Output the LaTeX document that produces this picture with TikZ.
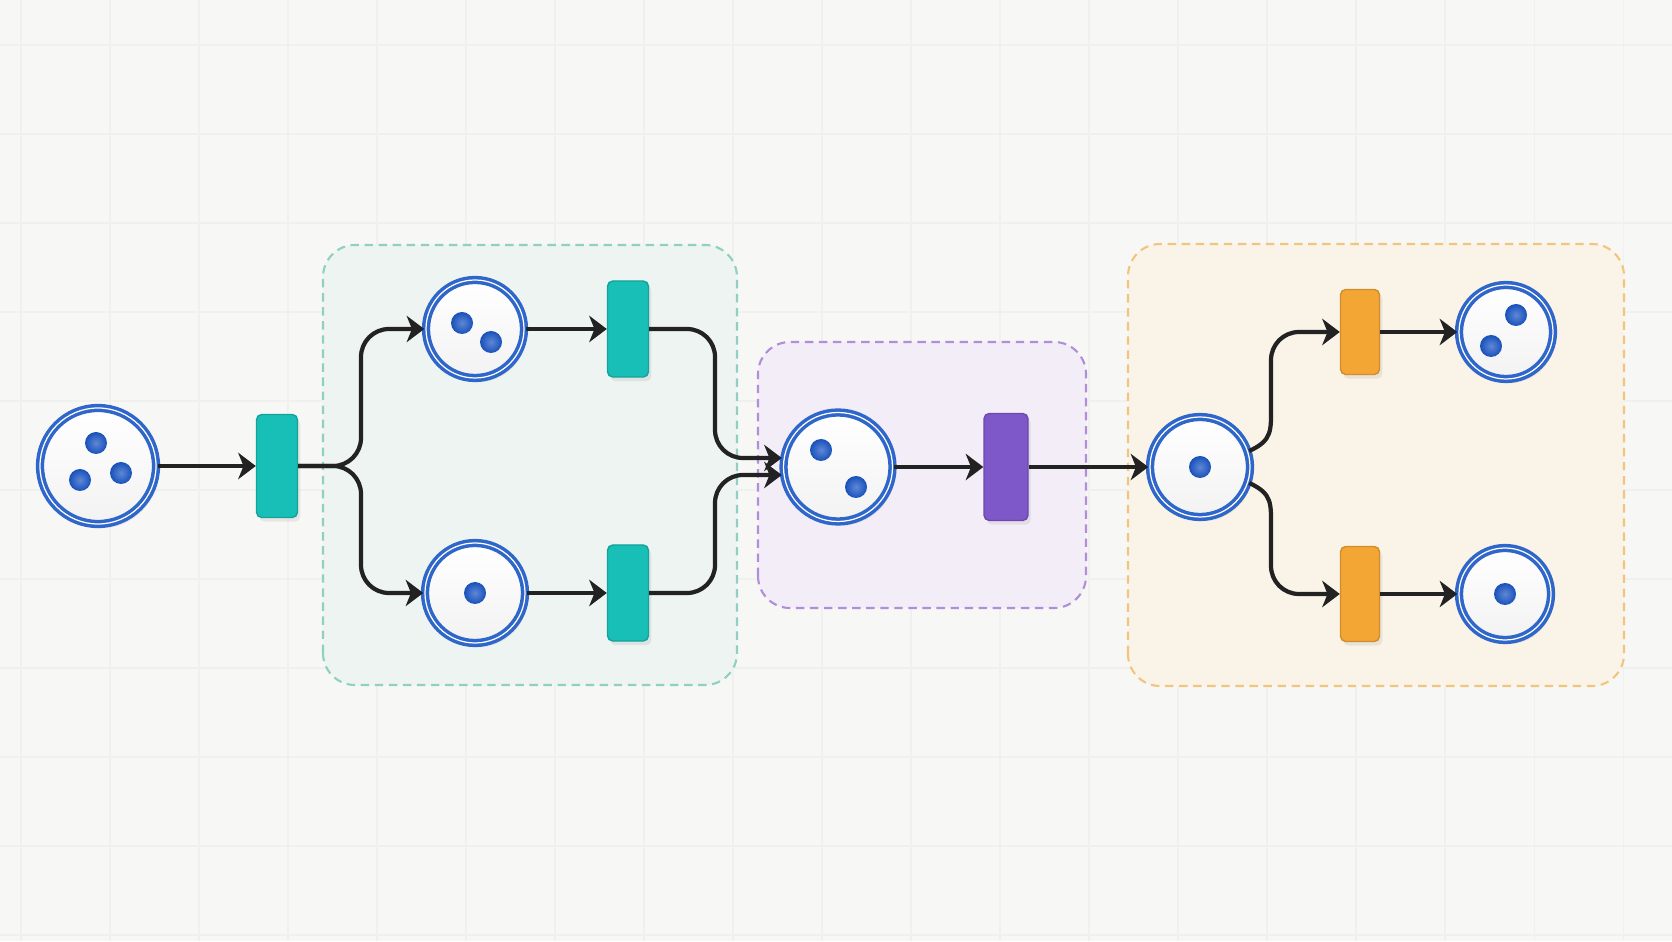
\documentclass[tikz,border=0pt]{standalone}
\usetikzlibrary{arrows.meta, positioning, shadows}
\definecolor{paperBg}{HTML}{F7F7F5}
\definecolor{gridLine}{HTML}{F0F0EE}
\definecolor{placeBlue}{HTML}{2F66C9}
\definecolor{tokenBlue}{HTML}{1A55C4}
\definecolor{arrowDark}{HTML}{222222}
\definecolor{trnTeal}{HTML}{17BFB6}
\definecolor{trnPurple}{HTML}{7E57C8}
\definecolor{trnOrange}{HTML}{F4A635}
\definecolor{grpTealLine}{HTML}{8FD0C2}
\definecolor{grpTealFill}{HTML}{EEF4F2}
\definecolor{grpPurpleLine}{HTML}{B08ED9}
\definecolor{grpPurpleFill}{HTML}{F3EDF8}
\definecolor{grpOrangeLine}{HTML}{F2C57E}
\definecolor{grpOrangeFill}{HTML}{FAF3E7}

\tikzset{
  placenode/.style={circle, draw=placeBlue, line width=1.0pt,
    double=white, double distance=0.35pt,
    top color=white, bottom color=gray!10,
    inner sep=0pt, minimum size=#1,
    drop shadow={opacity=0.14, shadow xshift=0.8pt, shadow yshift=-1.2pt}},
  tokendot/.style={circle, inner sep=0pt, minimum size=0.22cm,
    inner color=tokenBlue!70!white, outer color=tokenBlue!95!black},
  trnbox/.style={rectangle, rounded corners=1.5pt, inner sep=0pt,
    minimum width=0.41cm, fill=#1, draw=#1!85!black, line width=0.4pt,
    drop shadow={opacity=0.14, shadow xshift=0.8pt, shadow yshift=-1.2pt}},
  flow/.style={draw=arrowDark, line width=1.2pt, rounded corners=0.28cm,
    -{Stealth[length=5pt, width=7.5pt, inset=1.5pt]}},
  groupbox/.style 2 args={draw=#1, fill=#2, line width=0.6pt,
    dash pattern=on 2.4pt off 1.6pt, rounded corners=0.32cm}
}

\begin{document}
\begin{tikzpicture}
  \useasboundingbox (0,0) rectangle (16.72,9.41);
  \fill[paperBg] (0,0) rectangle (16.72,9.41);
  % faint grid
  \foreach \gx in {0,...,18}
    \draw[gridLine, line width=0.3pt] ({0.21+0.89*\gx},0) -- ++(0,9.41);
  \foreach \gy in {0,...,10}
    \draw[gridLine, line width=0.3pt] (0,{8.96-0.89*\gy}) -- ++(16.72,0);

  % groups
  \draw[groupbox={grpTealLine}{grpTealFill}] (3.23,2.56) rectangle (7.37,6.96);
  \draw[groupbox={grpPurpleLine}{grpPurpleFill}] (7.58,3.33) rectangle (10.86,5.99);
  \draw[groupbox={grpOrangeLine}{grpOrangeFill}] (11.28,2.55) rectangle (16.24,6.97);

  % places
  \node[placenode=1.16cm] (plc0) at (0.98,4.75) {};
  \node[placenode=0.98cm] (plc1) at (4.75,6.12) {};
  \node[placenode=1.00cm] (plc2) at (4.75,3.48) {};
  \node[placenode=1.09cm] (plc3) at (8.38,4.74) {};
  \node[placenode=1.00cm] (plc4) at (12.00,4.74) {};
  \node[placenode=0.94cm] (plc5) at (15.06,6.09) {};
  \node[placenode=0.92cm] (plc6) at (15.05,3.47) {};

  % transitions
  \node[trnbox=trnTeal, minimum height=1.03cm] (trn0) at (2.77,4.75) {};
  \node[trnbox=trnTeal, minimum height=0.96cm] (trn1) at (6.28,6.12) {};
  \node[trnbox=trnTeal, minimum height=0.96cm] (trn2) at (6.28,3.48) {};
  \node[trnbox=trnPurple, minimum width=0.44cm, minimum height=1.07cm] (trn3) at (10.06,4.74) {};
  \node[trnbox=trnOrange, minimum width=0.39cm, minimum height=0.85cm] (trn4) at (13.60,6.09) {};
  \node[trnbox=trnOrange, minimum width=0.39cm, minimum height=0.95cm] (trn5) at (13.60,3.47) {};

  % tokens
  \foreach \p/\dx/\dy [count=\i] in {plc0/-0.02/0.23, plc0/-0.18/-0.14, plc0/0.23/-0.07,
      plc1/-0.13/0.06, plc1/0.16/-0.13, plc2/0/0, plc3/-0.17/0.17, plc3/0.18/-0.20,
      plc4/0/0, plc5/0.10/0.17, plc5/-0.15/-0.14, plc6/0/0}
    \node[tokendot] (tok\i) at ([shift={(\dx,\dy)}]\p) {};

  % connectors
  \coordinate (fork) at (3.61,4.75);
  \coordinate (mrgA) at (7.15,4.83);
  \coordinate (mrgB) at (7.15,4.66);
  \coordinate (brA) at (12.71,5.36);
  \coordinate (brAtop) at (12.71,5.81);
  \coordinate (brAend) at (12.99,6.09);
  \coordinate (brB) at (12.71,4.12);
  \coordinate (brBbot) at (12.71,3.75);
  \coordinate (brBend) at (12.99,3.47);
  \draw[flow] (plc0) -- (trn0);
  \draw[flow] (trn0.east) -- (fork) |- (plc1.west);
  \draw[flow] (trn0.east) -- (fork) |- (plc2.west);
  \draw[flow] (plc1) -- (trn1);
  \draw[flow] (plc2) -- (trn2);
  \draw[flow] (trn1.east) -| (mrgA) -- (mrgA -| plc3.west);
  \draw[flow] (trn2.east) -| (mrgB) -- (mrgB -| plc3.west);
  \draw[flow] (plc3) -- (trn3);
  \draw[flow] (trn3) -- (plc4);
  \draw[flow, sharp corners] (plc4.18) to[out=25, in=-90, looseness=1.3] (brA)
    -- (brAtop) to[out=90, in=180] (brAend) -- (trn4.west);
  \draw[flow, sharp corners] (plc4.-18) to[out=-25, in=90, looseness=1.3] (brB)
    -- (brBbot) to[out=-90, in=180] (brBend) -- (trn5.west);
  \draw[flow] (trn4) -- (plc5);
  \draw[flow] (trn5) -- (plc6);
\end{tikzpicture}
\end{document}
